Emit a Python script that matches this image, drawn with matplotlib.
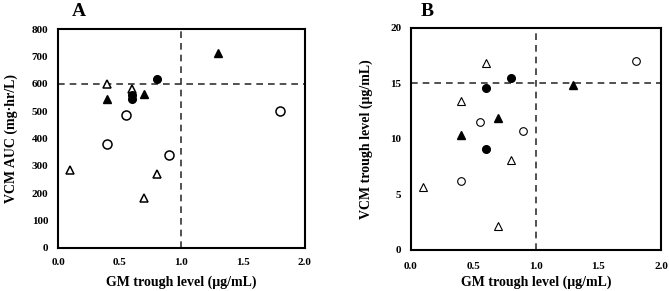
import matplotlib
matplotlib.use("Agg")
import matplotlib.pyplot as plt

# Panel A: VCM AUC vs GM trough
a_open_tri_x = [0.1, 0.4, 0.6, 0.7, 0.8]
a_open_tri_y = [285, 599, 580, 184, 270]
a_fill_tri_x = [0.4, 0.7, 1.3]
a_fill_tri_y = [544, 561, 711]
a_fill_cir_x = [0.6, 0.6, 0.8]
a_fill_cir_y = [558, 545, 618]
a_open_cir_x = [0.4, 0.55, 0.9, 1.8]
a_open_cir_y = [379, 487, 341, 501]

# Panel B: VCM trough vs GM trough
b_open_tri_x = [0.1, 0.4, 0.6, 0.7, 0.8]
b_open_tri_y = [5.7, 13.4, 16.8, 2.2, 8.1]
b_fill_tri_x = [0.4, 0.7, 1.3]
b_fill_tri_y = [10.4, 11.9, 14.9]
b_fill_cir_x = [0.6, 0.6, 0.8]
b_fill_cir_y = [14.6, 9.1, 15.5]
b_open_cir_x = [0.4, 0.55, 0.9, 1.8]
b_open_cir_y = [6.2, 11.5, 10.7, 17.0]

x_ticks = [0.0, 0.5, 1.0, 1.5, 2.0]
a_y_ticks = [0, 100, 200, 300, 400, 500, 600, 700, 800]
b_y_ticks = [0, 5, 10, 15, 20]

plt.rcParams['font.family'] = ['Liberation Serif', 'DejaVu Serif']
plt.rcParams['font.weight'] = 'bold'

fig = plt.figure(figsize=(6.69, 2.91), dpi=100)
axA = fig.add_axes([0.0867, 0.1478, 0.369, 0.7525])
axB = fig.add_axes([0.6143, 0.1409, 0.3737, 0.763])

def draw(ax, data, yticks, ylim, hline, ylabel, xlabel, ocs, mew):
    (otx, oty, ftx, fty, fcx, fcy, ocx, ocy) = data
    ax.plot(otx, oty, '^', ls='none', mfc='white', mec='black', mew=mew, ms=6, zorder=3)
    ax.plot(ftx, fty, '^', ls='none', mfc='black', mec='black', ms=6, zorder=3)
    ax.plot(fcx, fcy, 'o', ls='none', mfc='black', mec='black', ms=5.5, zorder=3)
    ax.plot(ocx, ocy, 'o', ls='none', mfc='white', mec='black', mew=mew, ms=ocs, zorder=3)
    ax.axvline(1.0, color='#333333', ls=(0, (4, 3)), lw=1.2, zorder=1)
    ax.axhline(hline, color='#333333', ls=(0, (4, 3)), lw=1.2, zorder=1)
    ax.set_xlim(0, 2.0)
    ax.set_ylim(*ylim)
    ax.set_xticks(x_ticks)
    ax.set_xticklabels([f"{t:.1f}" for t in x_ticks])
    ax.set_yticks(yticks)
    ax.set_yticklabels([str(t) for t in yticks])
    ax.tick_params(length=0, labelsize=8, pad=7)
    for lab in ax.get_xticklabels() + ax.get_yticklabels():
        lab.set_fontweight('bold')
    for s in ax.spines.values():
        s.set_linewidth(1.5)
        s.set_color('black')
    ax.set_xlabel(xlabel, fontsize=10, fontweight='bold')
    ax.set_ylabel(ylabel, fontsize=10, fontweight='bold', labelpad=10)

draw(axA, (a_open_tri_x, a_open_tri_y, a_fill_tri_x, a_fill_tri_y,
           a_fill_cir_x, a_fill_cir_y, a_open_cir_x, a_open_cir_y),
     a_y_ticks, (0, 800), 600, 'VCM AUC (mg·hr/L)', 'GM trough level (μg/mL)', 6.5, 1.1)
draw(axB, (b_open_tri_x, b_open_tri_y, b_fill_tri_x, b_fill_tri_y,
           b_fill_cir_x, b_fill_cir_y, b_open_cir_x, b_open_cir_y),
     b_y_ticks, (0, 20), 15, 'VCM trough level (μg/mL)', 'GM trough level (μg/mL)', 5.5, 0.8)
axB.tick_params(axis='x', pad=9)
axB.yaxis.labelpad = 12
axA.xaxis.set_label_coords(0.5, -0.125)
axB.xaxis.set_label_coords(0.5, -0.117)

fig.text(79/669, 1 - 12/291, 'A', fontsize=14, fontweight='bold', ha='center', va='center')
fig.text(427/669, 1 - 11/291, 'B', fontsize=14, fontweight='bold', ha='center', va='center')

fig.savefig('out.png', dpi=100)
